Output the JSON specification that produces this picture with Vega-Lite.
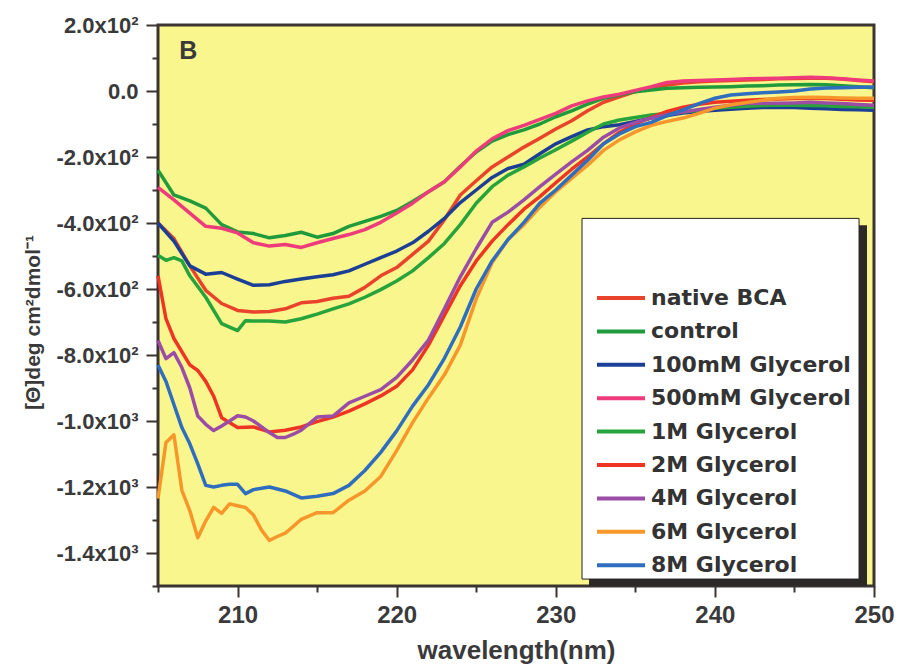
{
  "$schema": "https://vega.github.io/schema/vega-lite/v6.json",
  "width": 716,
  "height": 561,
  "autosize": {"type": "none"},
  "padding": {"left": 158, "top": 25, "right": 25, "bottom": 84},
  "background": "white",
  "config": {
    "view": {"stroke": "#3b3431", "strokeWidth": 3, "fill": "#faf68e"},
    "axis": {
      "domain": false,
      "grid": false,
      "tickColor": "#3b3431",
      "tickWidth": 2,
      "labelColor": "#3a3a3a",
      "titleColor": "#3a3a3a",
      "labelFont": "Liberation Sans",
      "titleFont": "Liberation Sans",
      "labelFontWeight": "bold",
      "titleFontWeight": "bold"
    }
  },
  "resolve": {"axis": {"x": "independent", "y": "independent"}},
  "datasets": {
    "cd": [
      {"s":"native BCA","wl":205,"v":-400},{"s":"native BCA","wl":206,"v":-447},{"s":"native BCA","wl":207,"v":-530},{"s":"native BCA","wl":208,"v":-604},{"s":"native BCA","wl":209,"v":-644},{"s":"native BCA","wl":210,"v":-665},{"s":"native BCA","wl":211,"v":-670},{"s":"native BCA","wl":212,"v":-668},{"s":"native BCA","wl":213,"v":-660},{"s":"native BCA","wl":214,"v":-642},{"s":"native BCA","wl":215,"v":-638},{"s":"native BCA","wl":216,"v":-628},{"s":"native BCA","wl":217,"v":-622},{"s":"native BCA","wl":218,"v":-595},{"s":"native BCA","wl":219,"v":-560},{"s":"native BCA","wl":220,"v":-535},{"s":"native BCA","wl":221,"v":-495},{"s":"native BCA","wl":222,"v":-455},{"s":"native BCA","wl":223,"v":-390},{"s":"native BCA","wl":224,"v":-315},{"s":"native BCA","wl":225,"v":-272},{"s":"native BCA","wl":226,"v":-230},{"s":"native BCA","wl":227,"v":-200},{"s":"native BCA","wl":228,"v":-170},{"s":"native BCA","wl":229,"v":-143},{"s":"native BCA","wl":230,"v":-115},{"s":"native BCA","wl":231,"v":-90},{"s":"native BCA","wl":232,"v":-60},{"s":"native BCA","wl":233,"v":-34},{"s":"native BCA","wl":234,"v":-18},{"s":"native BCA","wl":235,"v":-2},{"s":"native BCA","wl":236,"v":9},{"s":"native BCA","wl":237,"v":18},{"s":"native BCA","wl":238,"v":24},{"s":"native BCA","wl":239,"v":28},{"s":"native BCA","wl":240,"v":30},{"s":"native BCA","wl":241,"v":32},{"s":"native BCA","wl":242,"v":33},{"s":"native BCA","wl":243,"v":35},{"s":"native BCA","wl":244,"v":37},{"s":"native BCA","wl":245,"v":38},{"s":"native BCA","wl":246,"v":39},{"s":"native BCA","wl":247,"v":39},{"s":"native BCA","wl":248,"v":36},{"s":"native BCA","wl":249,"v":32},{"s":"native BCA","wl":250,"v":28},

      {"s":"control","wl":205,"v":-240},{"s":"control","wl":206,"v":-315},{"s":"control","wl":207,"v":-333},{"s":"control","wl":208,"v":-355},{"s":"control","wl":209,"v":-405},{"s":"control","wl":210,"v":-427},{"s":"control","wl":211,"v":-432},{"s":"control","wl":212,"v":-445},{"s":"control","wl":213,"v":-438},{"s":"control","wl":214,"v":-428},{"s":"control","wl":215,"v":-443},{"s":"control","wl":216,"v":-432},{"s":"control","wl":217,"v":-410},{"s":"control","wl":218,"v":-395},{"s":"control","wl":219,"v":-380},{"s":"control","wl":220,"v":-362},{"s":"control","wl":221,"v":-335},{"s":"control","wl":222,"v":-305},{"s":"control","wl":223,"v":-275},{"s":"control","wl":224,"v":-228},{"s":"control","wl":225,"v":-185},{"s":"control","wl":226,"v":-152},{"s":"control","wl":227,"v":-132},{"s":"control","wl":228,"v":-118},{"s":"control","wl":229,"v":-100},{"s":"control","wl":230,"v":-78},{"s":"control","wl":231,"v":-60},{"s":"control","wl":232,"v":-40},{"s":"control","wl":233,"v":-22},{"s":"control","wl":234,"v":-12},{"s":"control","wl":235,"v":-2},{"s":"control","wl":236,"v":3},{"s":"control","wl":237,"v":8},{"s":"control","wl":238,"v":10},{"s":"control","wl":239,"v":11},{"s":"control","wl":240,"v":12},{"s":"control","wl":241,"v":13},{"s":"control","wl":242,"v":15},{"s":"control","wl":243,"v":16},{"s":"control","wl":244,"v":18},{"s":"control","wl":245,"v":19},{"s":"control","wl":246,"v":20},{"s":"control","wl":247,"v":19},{"s":"control","wl":248,"v":16},{"s":"control","wl":249,"v":13},{"s":"control","wl":250,"v":10},

      {"s":"100mM Glycerol","wl":205,"v":-400},{"s":"100mM Glycerol","wl":206,"v":-455},{"s":"100mM Glycerol","wl":207,"v":-530},{"s":"100mM Glycerol","wl":208,"v":-555},{"s":"100mM Glycerol","wl":209,"v":-550},{"s":"100mM Glycerol","wl":210,"v":-570},{"s":"100mM Glycerol","wl":211,"v":-589},{"s":"100mM Glycerol","wl":212,"v":-587},{"s":"100mM Glycerol","wl":213,"v":-577},{"s":"100mM Glycerol","wl":214,"v":-570},{"s":"100mM Glycerol","wl":215,"v":-563},{"s":"100mM Glycerol","wl":216,"v":-557},{"s":"100mM Glycerol","wl":217,"v":-545},{"s":"100mM Glycerol","wl":218,"v":-525},{"s":"100mM Glycerol","wl":219,"v":-505},{"s":"100mM Glycerol","wl":220,"v":-485},{"s":"100mM Glycerol","wl":221,"v":-460},{"s":"100mM Glycerol","wl":222,"v":-425},{"s":"100mM Glycerol","wl":223,"v":-386},{"s":"100mM Glycerol","wl":224,"v":-338},{"s":"100mM Glycerol","wl":225,"v":-300},{"s":"100mM Glycerol","wl":226,"v":-262},{"s":"100mM Glycerol","wl":227,"v":-235},{"s":"100mM Glycerol","wl":228,"v":-222},{"s":"100mM Glycerol","wl":229,"v":-190},{"s":"100mM Glycerol","wl":230,"v":-160},{"s":"100mM Glycerol","wl":231,"v":-138},{"s":"100mM Glycerol","wl":232,"v":-118},{"s":"100mM Glycerol","wl":233,"v":-108},{"s":"100mM Glycerol","wl":234,"v":-102},{"s":"100mM Glycerol","wl":235,"v":-92},{"s":"100mM Glycerol","wl":236,"v":-82},{"s":"100mM Glycerol","wl":237,"v":-74},{"s":"100mM Glycerol","wl":238,"v":-67},{"s":"100mM Glycerol","wl":239,"v":-62},{"s":"100mM Glycerol","wl":240,"v":-58},{"s":"100mM Glycerol","wl":241,"v":-55},{"s":"100mM Glycerol","wl":242,"v":-52},{"s":"100mM Glycerol","wl":243,"v":-50},{"s":"100mM Glycerol","wl":244,"v":-49},{"s":"100mM Glycerol","wl":245,"v":-50},{"s":"100mM Glycerol","wl":246,"v":-52},{"s":"100mM Glycerol","wl":247,"v":-54},{"s":"100mM Glycerol","wl":248,"v":-56},{"s":"100mM Glycerol","wl":249,"v":-57},{"s":"100mM Glycerol","wl":250,"v":-58},

      {"s":"500mM Glycerol","wl":205,"v":-292},{"s":"500mM Glycerol","wl":206,"v":-330},{"s":"500mM Glycerol","wl":207,"v":-370},{"s":"500mM Glycerol","wl":208,"v":-410},{"s":"500mM Glycerol","wl":209,"v":-416},{"s":"500mM Glycerol","wl":210,"v":-430},{"s":"500mM Glycerol","wl":211,"v":-460},{"s":"500mM Glycerol","wl":212,"v":-470},{"s":"500mM Glycerol","wl":213,"v":-465},{"s":"500mM Glycerol","wl":214,"v":-474},{"s":"500mM Glycerol","wl":215,"v":-460},{"s":"500mM Glycerol","wl":216,"v":-447},{"s":"500mM Glycerol","wl":217,"v":-435},{"s":"500mM Glycerol","wl":218,"v":-420},{"s":"500mM Glycerol","wl":219,"v":-398},{"s":"500mM Glycerol","wl":220,"v":-370},{"s":"500mM Glycerol","wl":221,"v":-340},{"s":"500mM Glycerol","wl":222,"v":-305},{"s":"500mM Glycerol","wl":223,"v":-275},{"s":"500mM Glycerol","wl":224,"v":-230},{"s":"500mM Glycerol","wl":225,"v":-182},{"s":"500mM Glycerol","wl":226,"v":-145},{"s":"500mM Glycerol","wl":227,"v":-120},{"s":"500mM Glycerol","wl":228,"v":-104},{"s":"500mM Glycerol","wl":229,"v":-86},{"s":"500mM Glycerol","wl":230,"v":-68},{"s":"500mM Glycerol","wl":231,"v":-45},{"s":"500mM Glycerol","wl":232,"v":-30},{"s":"500mM Glycerol","wl":233,"v":-18},{"s":"500mM Glycerol","wl":234,"v":-10},{"s":"500mM Glycerol","wl":235,"v":2},{"s":"500mM Glycerol","wl":236,"v":13},{"s":"500mM Glycerol","wl":237,"v":26},{"s":"500mM Glycerol","wl":238,"v":30},{"s":"500mM Glycerol","wl":239,"v":32},{"s":"500mM Glycerol","wl":240,"v":33},{"s":"500mM Glycerol","wl":241,"v":35},{"s":"500mM Glycerol","wl":242,"v":37},{"s":"500mM Glycerol","wl":243,"v":38},{"s":"500mM Glycerol","wl":244,"v":39},{"s":"500mM Glycerol","wl":245,"v":40},{"s":"500mM Glycerol","wl":246,"v":42},{"s":"500mM Glycerol","wl":247,"v":40},{"s":"500mM Glycerol","wl":248,"v":37},{"s":"500mM Glycerol","wl":249,"v":33},{"s":"500mM Glycerol","wl":250,"v":30},

      {"s":"1M Glycerol","wl":205,"v":-498},{"s":"1M Glycerol","wl":205.5,"v":-513},{"s":"1M Glycerol","wl":206,"v":-505},{"s":"1M Glycerol","wl":206.5,"v":-515},{"s":"1M Glycerol","wl":207,"v":-560},{"s":"1M Glycerol","wl":208,"v":-625},{"s":"1M Glycerol","wl":209,"v":-705},{"s":"1M Glycerol","wl":210,"v":-726},{"s":"1M Glycerol","wl":210.5,"v":-696},{"s":"1M Glycerol","wl":211,"v":-697},{"s":"1M Glycerol","wl":212,"v":-697},{"s":"1M Glycerol","wl":213,"v":-700},{"s":"1M Glycerol","wl":214,"v":-690},{"s":"1M Glycerol","wl":215,"v":-676},{"s":"1M Glycerol","wl":216,"v":-660},{"s":"1M Glycerol","wl":217,"v":-645},{"s":"1M Glycerol","wl":218,"v":-625},{"s":"1M Glycerol","wl":219,"v":-602},{"s":"1M Glycerol","wl":220,"v":-576},{"s":"1M Glycerol","wl":221,"v":-545},{"s":"1M Glycerol","wl":222,"v":-505},{"s":"1M Glycerol","wl":223,"v":-462},{"s":"1M Glycerol","wl":224,"v":-405},{"s":"1M Glycerol","wl":225,"v":-340},{"s":"1M Glycerol","wl":226,"v":-290},{"s":"1M Glycerol","wl":227,"v":-255},{"s":"1M Glycerol","wl":228,"v":-230},{"s":"1M Glycerol","wl":229,"v":-203},{"s":"1M Glycerol","wl":230,"v":-178},{"s":"1M Glycerol","wl":231,"v":-152},{"s":"1M Glycerol","wl":232,"v":-125},{"s":"1M Glycerol","wl":233,"v":-100},{"s":"1M Glycerol","wl":234,"v":-88},{"s":"1M Glycerol","wl":235,"v":-80},{"s":"1M Glycerol","wl":236,"v":-73},{"s":"1M Glycerol","wl":237,"v":-68},{"s":"1M Glycerol","wl":238,"v":-64},{"s":"1M Glycerol","wl":239,"v":-58},{"s":"1M Glycerol","wl":240,"v":-52},{"s":"1M Glycerol","wl":241,"v":-49},{"s":"1M Glycerol","wl":242,"v":-46},{"s":"1M Glycerol","wl":243,"v":-44},{"s":"1M Glycerol","wl":244,"v":-43},{"s":"1M Glycerol","wl":245,"v":-43},{"s":"1M Glycerol","wl":246,"v":-44},{"s":"1M Glycerol","wl":247,"v":-45},{"s":"1M Glycerol","wl":248,"v":-47},{"s":"1M Glycerol","wl":249,"v":-48},{"s":"1M Glycerol","wl":250,"v":-49},

      {"s":"2M Glycerol","wl":205,"v":-560},{"s":"2M Glycerol","wl":205.5,"v":-690},{"s":"2M Glycerol","wl":206,"v":-750},{"s":"2M Glycerol","wl":207,"v":-830},{"s":"2M Glycerol","wl":207.5,"v":-847},{"s":"2M Glycerol","wl":208,"v":-880},{"s":"2M Glycerol","wl":208.5,"v":-925},{"s":"2M Glycerol","wl":209,"v":-990},{"s":"2M Glycerol","wl":210,"v":-1020},{"s":"2M Glycerol","wl":211,"v":-1018},{"s":"2M Glycerol","wl":212,"v":-1033},{"s":"2M Glycerol","wl":213,"v":-1028},{"s":"2M Glycerol","wl":214,"v":-1018},{"s":"2M Glycerol","wl":215,"v":-1002},{"s":"2M Glycerol","wl":216,"v":-988},{"s":"2M Glycerol","wl":217,"v":-970},{"s":"2M Glycerol","wl":218,"v":-948},{"s":"2M Glycerol","wl":219,"v":-924},{"s":"2M Glycerol","wl":220,"v":-895},{"s":"2M Glycerol","wl":221,"v":-845},{"s":"2M Glycerol","wl":222,"v":-770},{"s":"2M Glycerol","wl":223,"v":-680},{"s":"2M Glycerol","wl":224,"v":-590},{"s":"2M Glycerol","wl":225,"v":-515},{"s":"2M Glycerol","wl":226,"v":-455},{"s":"2M Glycerol","wl":227,"v":-405},{"s":"2M Glycerol","wl":228,"v":-358},{"s":"2M Glycerol","wl":229,"v":-320},{"s":"2M Glycerol","wl":230,"v":-278},{"s":"2M Glycerol","wl":231,"v":-237},{"s":"2M Glycerol","wl":232,"v":-200},{"s":"2M Glycerol","wl":233,"v":-160},{"s":"2M Glycerol","wl":234,"v":-125},{"s":"2M Glycerol","wl":235,"v":-100},{"s":"2M Glycerol","wl":236,"v":-80},{"s":"2M Glycerol","wl":237,"v":-62},{"s":"2M Glycerol","wl":238,"v":-49},{"s":"2M Glycerol","wl":239,"v":-40},{"s":"2M Glycerol","wl":240,"v":-34},{"s":"2M Glycerol","wl":241,"v":-31},{"s":"2M Glycerol","wl":242,"v":-28},{"s":"2M Glycerol","wl":243,"v":-26},{"s":"2M Glycerol","wl":244,"v":-24},{"s":"2M Glycerol","wl":245,"v":-23},{"s":"2M Glycerol","wl":246,"v":-22},{"s":"2M Glycerol","wl":247,"v":-23},{"s":"2M Glycerol","wl":248,"v":-25},{"s":"2M Glycerol","wl":249,"v":-27},{"s":"2M Glycerol","wl":250,"v":-28},

      {"s":"4M Glycerol","wl":205,"v":-756},{"s":"4M Glycerol","wl":205.5,"v":-811},{"s":"4M Glycerol","wl":206,"v":-793},{"s":"4M Glycerol","wl":206.5,"v":-838},{"s":"4M Glycerol","wl":207,"v":-900},{"s":"4M Glycerol","wl":207.5,"v":-985},{"s":"4M Glycerol","wl":208,"v":-1010},{"s":"4M Glycerol","wl":208.5,"v":-1029},{"s":"4M Glycerol","wl":209,"v":-1015},{"s":"4M Glycerol","wl":209.5,"v":-1000},{"s":"4M Glycerol","wl":210,"v":-984},{"s":"4M Glycerol","wl":210.5,"v":-988},{"s":"4M Glycerol","wl":211,"v":-1000},{"s":"4M Glycerol","wl":212,"v":-1035},{"s":"4M Glycerol","wl":212.5,"v":-1050},{"s":"4M Glycerol","wl":213,"v":-1050},{"s":"4M Glycerol","wl":213.5,"v":-1040},{"s":"4M Glycerol","wl":214,"v":-1028},{"s":"4M Glycerol","wl":215,"v":-988},{"s":"4M Glycerol","wl":216,"v":-985},{"s":"4M Glycerol","wl":217,"v":-945},{"s":"4M Glycerol","wl":218,"v":-925},{"s":"4M Glycerol","wl":219,"v":-905},{"s":"4M Glycerol","wl":220,"v":-868},{"s":"4M Glycerol","wl":221,"v":-815},{"s":"4M Glycerol","wl":222,"v":-755},{"s":"4M Glycerol","wl":223,"v":-660},{"s":"4M Glycerol","wl":224,"v":-563},{"s":"4M Glycerol","wl":225,"v":-478},{"s":"4M Glycerol","wl":226,"v":-398},{"s":"4M Glycerol","wl":227,"v":-367},{"s":"4M Glycerol","wl":228,"v":-330},{"s":"4M Glycerol","wl":229,"v":-290},{"s":"4M Glycerol","wl":230,"v":-252},{"s":"4M Glycerol","wl":231,"v":-215},{"s":"4M Glycerol","wl":232,"v":-180},{"s":"4M Glycerol","wl":233,"v":-140},{"s":"4M Glycerol","wl":234,"v":-112},{"s":"4M Glycerol","wl":235,"v":-95},{"s":"4M Glycerol","wl":236,"v":-82},{"s":"4M Glycerol","wl":237,"v":-72},{"s":"4M Glycerol","wl":238,"v":-64},{"s":"4M Glycerol","wl":239,"v":-56},{"s":"4M Glycerol","wl":240,"v":-49},{"s":"4M Glycerol","wl":241,"v":-43},{"s":"4M Glycerol","wl":242,"v":-38},{"s":"4M Glycerol","wl":243,"v":-37},{"s":"4M Glycerol","wl":244,"v":-37},{"s":"4M Glycerol","wl":245,"v":-36},{"s":"4M Glycerol","wl":246,"v":-34},{"s":"4M Glycerol","wl":247,"v":-36},{"s":"4M Glycerol","wl":248,"v":-38},{"s":"4M Glycerol","wl":249,"v":-41},{"s":"4M Glycerol","wl":250,"v":-43},

      {"s":"6M Glycerol","wl":205,"v":-1235},{"s":"6M Glycerol","wl":205.5,"v":-1065},{"s":"6M Glycerol","wl":206,"v":-1042},{"s":"6M Glycerol","wl":206.5,"v":-1210},{"s":"6M Glycerol","wl":207,"v":-1272},{"s":"6M Glycerol","wl":207.5,"v":-1354},{"s":"6M Glycerol","wl":208,"v":-1303},{"s":"6M Glycerol","wl":208.5,"v":-1262},{"s":"6M Glycerol","wl":209,"v":-1280},{"s":"6M Glycerol","wl":209.5,"v":-1251},{"s":"6M Glycerol","wl":210,"v":-1257},{"s":"6M Glycerol","wl":210.5,"v":-1262},{"s":"6M Glycerol","wl":211,"v":-1285},{"s":"6M Glycerol","wl":211.5,"v":-1330},{"s":"6M Glycerol","wl":212,"v":-1362},{"s":"6M Glycerol","wl":212.5,"v":-1350},{"s":"6M Glycerol","wl":213,"v":-1340},{"s":"6M Glycerol","wl":214,"v":-1298},{"s":"6M Glycerol","wl":215,"v":-1278},{"s":"6M Glycerol","wl":216,"v":-1278},{"s":"6M Glycerol","wl":217,"v":-1240},{"s":"6M Glycerol","wl":218,"v":-1212},{"s":"6M Glycerol","wl":219,"v":-1168},{"s":"6M Glycerol","wl":220,"v":-1090},{"s":"6M Glycerol","wl":221,"v":-1005},{"s":"6M Glycerol","wl":222,"v":-930},{"s":"6M Glycerol","wl":223,"v":-860},{"s":"6M Glycerol","wl":224,"v":-770},{"s":"6M Glycerol","wl":225,"v":-630},{"s":"6M Glycerol","wl":226,"v":-520},{"s":"6M Glycerol","wl":227,"v":-450},{"s":"6M Glycerol","wl":228,"v":-405},{"s":"6M Glycerol","wl":229,"v":-352},{"s":"6M Glycerol","wl":230,"v":-305},{"s":"6M Glycerol","wl":231,"v":-265},{"s":"6M Glycerol","wl":232,"v":-225},{"s":"6M Glycerol","wl":233,"v":-180},{"s":"6M Glycerol","wl":234,"v":-148},{"s":"6M Glycerol","wl":235,"v":-124},{"s":"6M Glycerol","wl":236,"v":-104},{"s":"6M Glycerol","wl":237,"v":-92},{"s":"6M Glycerol","wl":238,"v":-82},{"s":"6M Glycerol","wl":239,"v":-68},{"s":"6M Glycerol","wl":240,"v":-52},{"s":"6M Glycerol","wl":241,"v":-42},{"s":"6M Glycerol","wl":242,"v":-35},{"s":"6M Glycerol","wl":243,"v":-28},{"s":"6M Glycerol","wl":244,"v":-22},{"s":"6M Glycerol","wl":245,"v":-20},{"s":"6M Glycerol","wl":246,"v":-19},{"s":"6M Glycerol","wl":247,"v":-20},{"s":"6M Glycerol","wl":248,"v":-21},{"s":"6M Glycerol","wl":249,"v":-22},{"s":"6M Glycerol","wl":250,"v":-22},

      {"s":"8M Glycerol","wl":205,"v":-830},{"s":"8M Glycerol","wl":205.5,"v":-880},{"s":"8M Glycerol","wl":206,"v":-950},{"s":"8M Glycerol","wl":206.5,"v":-1020},{"s":"8M Glycerol","wl":207,"v":-1069},{"s":"8M Glycerol","wl":207.5,"v":-1130},{"s":"8M Glycerol","wl":208,"v":-1195},{"s":"8M Glycerol","wl":208.5,"v":-1200},{"s":"8M Glycerol","wl":209,"v":-1195},{"s":"8M Glycerol","wl":209.5,"v":-1192},{"s":"8M Glycerol","wl":210,"v":-1192},{"s":"8M Glycerol","wl":210.5,"v":-1220},{"s":"8M Glycerol","wl":211,"v":-1208},{"s":"8M Glycerol","wl":212,"v":-1200},{"s":"8M Glycerol","wl":213,"v":-1212},{"s":"8M Glycerol","wl":214,"v":-1233},{"s":"8M Glycerol","wl":215,"v":-1228},{"s":"8M Glycerol","wl":216,"v":-1220},{"s":"8M Glycerol","wl":217,"v":-1195},{"s":"8M Glycerol","wl":218,"v":-1150},{"s":"8M Glycerol","wl":219,"v":-1095},{"s":"8M Glycerol","wl":220,"v":-1030},{"s":"8M Glycerol","wl":221,"v":-955},{"s":"8M Glycerol","wl":222,"v":-890},{"s":"8M Glycerol","wl":223,"v":-810},{"s":"8M Glycerol","wl":224,"v":-715},{"s":"8M Glycerol","wl":225,"v":-600},{"s":"8M Glycerol","wl":226,"v":-515},{"s":"8M Glycerol","wl":227,"v":-450},{"s":"8M Glycerol","wl":228,"v":-398},{"s":"8M Glycerol","wl":229,"v":-340},{"s":"8M Glycerol","wl":230,"v":-300},{"s":"8M Glycerol","wl":231,"v":-255},{"s":"8M Glycerol","wl":232,"v":-210},{"s":"8M Glycerol","wl":233,"v":-160},{"s":"8M Glycerol","wl":234,"v":-130},{"s":"8M Glycerol","wl":235,"v":-108},{"s":"8M Glycerol","wl":236,"v":-95},{"s":"8M Glycerol","wl":237,"v":-75},{"s":"8M Glycerol","wl":238,"v":-57},{"s":"8M Glycerol","wl":239,"v":-38},{"s":"8M Glycerol","wl":240,"v":-22},{"s":"8M Glycerol","wl":241,"v":-12},{"s":"8M Glycerol","wl":242,"v":-8},{"s":"8M Glycerol","wl":243,"v":-5},{"s":"8M Glycerol","wl":244,"v":-3},{"s":"8M Glycerol","wl":245,"v":0},{"s":"8M Glycerol","wl":246,"v":6},{"s":"8M Glycerol","wl":247,"v":9},{"s":"8M Glycerol","wl":248,"v":10},{"s":"8M Glycerol","wl":249,"v":11},{"s":"8M Glycerol","wl":250,"v":12}
    ]
  },
  "layer": [
    {
      "data": {"name": "cd"},
      "mark": {"type": "line", "strokeWidth": 3.5, "strokeJoin": "round"},
      "encoding": {
        "x": {
          "field": "wl",
          "type": "quantitative",
          "scale": {"domain": [205, 250], "nice": false, "zero": false},
          "axis": {
            "orient": "bottom",
            "title": "wavelength(nm)",
            "titleFontSize": 26,
            "titlePadding": 10,
            "values": [210, 220, 230, 240, 250],
            "labelFontSize": 24,
            "labelPadding": 6,
            "labelFlush": false,
            "labelOverlap": false,
            "tickSize": 11
          }
        },
        "y": {
          "field": "v",
          "type": "quantitative",
          "scale": {"domain": [-1500, 200], "nice": false, "zero": false},
          "axis": {
            "orient": "left",
            "title": "[Θ]deg cm²dmol⁻¹",
            "titleFontSize": 21,
            "titleAngle": -90,
            "titleAlign": "center",
            "titleBaseline": "bottom",
            "titleX": -115,
            "titleY": 297,
            "values": [-1400, -1200, -1000, -800, -600, -400, -200, 0, 200],
            "labelExpr": "datum.value == 0 ? '0.0' : (datum.value < 0 ? '-' : '') + (abs(datum.value) >= 1000 ? format(abs(datum.value) / 1000, '.1f') + 'x10³' : format(abs(datum.value) / 100, '.1f') + 'x10²')",
            "labelFontSize": 22,
            "labelPadding": 8,
            "labelOverlap": false,
            "tickSize": 12
          }
        },
        "color": {
          "field": "s",
          "type": "nominal",
          "scale": {
            "domain": ["native BCA", "control", "100mM Glycerol", "500mM Glycerol", "1M Glycerol", "2M Glycerol", "4M Glycerol", "6M Glycerol", "8M Glycerol"],
            "range": ["#e9432b", "#1f9b3c", "#1b3f94", "#ed3b7b", "#27a33b", "#ee3423", "#9b4ca6", "#f7972b", "#2f6dbf"]
          },
          "legend": {
            "orient": "none",
            "legendX": 437,
            "legendY": 260,
            "title": null,
            "padding": 0,
            "symbolType": "stroke",
            "symbolSize": 2304,
            "symbolStrokeWidth": 4,
            "clipHeight": 26,
            "rowPadding": 7.4,
            "labelOffset": 4,
            "labelFont": "DejaVu Sans",
            "labelFontWeight": "bold",
            "labelFontSize": 22,
            "labelColor": "#333333",
            "labelLimit": 400
          }
        }
      }
    },
    {
      "data": {"values": [{}]},
      "mark": {"type": "rect", "color": "#2d2927", "opacity": 1},
      "encoding": {
        "x": {
          "datum": 232.09,
          "type": "quantitative",
          "axis": {"orient": "bottom", "values": [205, 215, 225, 235, 245], "labels": false, "title": null, "tickSize": 6}
        },
        "x2": {"datum": 249.56},
        "y": {
          "datum": -1500,
          "type": "quantitative",
          "axis": {"orient": "left", "values": [-1500, -1300, -1100, -900, -700, -500, -300, -100, 100], "labels": false, "title": null, "tickSize": 6}
        },
        "y2": {"datum": -407}
      }
    },
    {
      "data": {"values": [{}]},
      "mark": {"type": "rect", "fill": "white", "stroke": "#222222", "strokeWidth": 1, "opacity": 1},
      "encoding": {
        "x": {"datum": 231.65, "type": "quantitative", "axis": null},
        "x2": {"datum": 249.06},
        "y": {"datum": -1479, "type": "quantitative", "axis": null},
        "y2": {"datum": -386}
      }
    },
    {
      "data": {"values": [{}]},
      "mark": {"type": "text", "text": "B", "font": "Liberation Sans", "fontWeight": "bold", "fontSize": 25, "color": "#3a3a3a", "align": "center", "baseline": "middle"},
      "encoding": {
        "x": {"datum": 206.9, "type": "quantitative", "axis": null},
        "y": {"datum": 121, "type": "quantitative", "axis": null}
      }
    }
  ]
}
